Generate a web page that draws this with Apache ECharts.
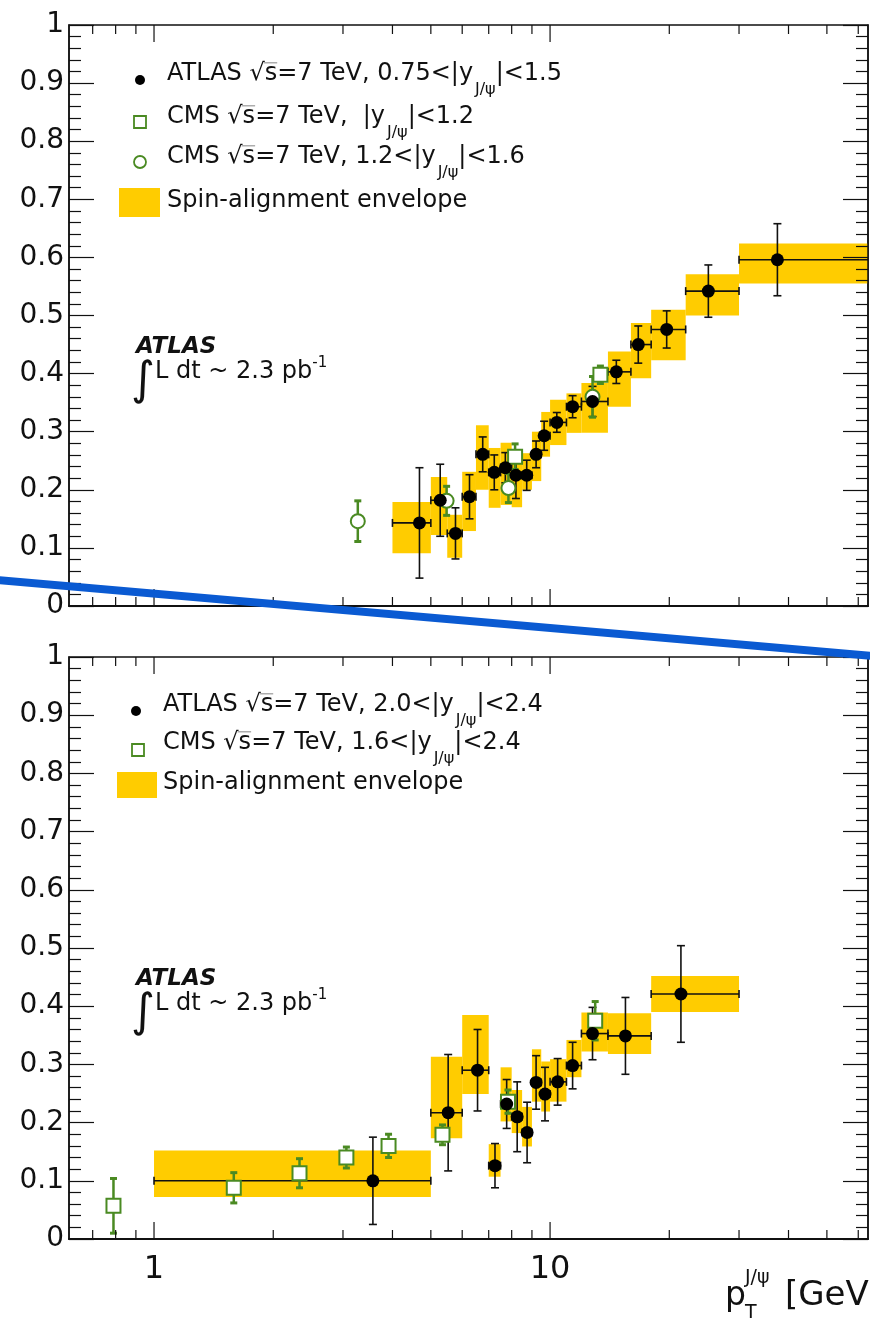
<!DOCTYPE html>
<html>
<head>
<meta charset="utf-8">
<script src="https://cdn.jsdelivr.net/npm/echarts@6/dist/echarts.min.js"></script>
<style>
  html, body { margin: 0; padding: 0; background: #fff; }
  #chart { width: 870px; height: 1321px; }
</style>
</head>
<body>
<div id="chart"></div>
<script>
// ---- top panel, 0.75<|y|<1.5 ----
var topPt    = [4.68, 5.28, 5.77, 6.26, 6.76, 7.23, 7.71, 8.2, 8.73, 9.22, 9.66, 10.4, 11.4, 12.8, 14.7, 16.7, 19.7, 25.1, 37.5];
var topVal   = [0.143, 0.182, 0.125, 0.188, 0.261, 0.230, 0.238, 0.225, 0.225, 0.261, 0.293, 0.316, 0.343, 0.352, 0.403, 0.450, 0.476, 0.542, 0.596];
var topErr   = [0.095, 0.062, 0.044, 0.038, 0.030, 0.030, 0.026, 0.040, 0.026, 0.023, 0.025, 0.017, 0.019, 0.026, 0.020, 0.032, 0.032, 0.045, 0.062];
var topBinLo = [4, 5, 5.5, 6, 6.5, 7, 7.5, 8, 8.5, 9, 9.5, 10, 11, 12, 14, 16, 18, 22, 30];
var topBinHi = [5, 5.5, 6, 6.5, 7, 7.5, 8, 8.5, 9, 9.5, 10, 11, 12, 14, 16, 18, 22, 30, 70];
var topEnvLo = [0.091, 0.122, 0.083, 0.129, 0.200, 0.169, 0.174, 0.170, 0.200, 0.215, 0.257, 0.277, 0.298, 0.298, 0.343, 0.392, 0.423, 0.500, 0.555];
var topEnvHi = [0.179, 0.222, 0.157, 0.231, 0.311, 0.272, 0.281, 0.262, 0.263, 0.300, 0.334, 0.355, 0.366, 0.384, 0.438, 0.487, 0.510, 0.571, 0.624];
var topSqX   = [8.16, 13.4];
var topSqVal = [0.257, 0.398];
var topSqErr = [0.022, 0.015];
var topCiX   = [3.27, 5.48, 7.85, 12.8];
var topCiVal = [0.146, 0.181, 0.203, 0.360];
var topCiErr = [0.035, 0.025, 0.025, 0.035];

// ---- bottom panel, 2.0<|y|<2.4 ----
var botPt    = [3.57, 5.53, 6.56, 7.26, 7.77, 8.26, 8.75, 9.22, 9.71, 10.45, 11.4, 12.8, 15.5, 21.4];
var botVal   = [0.100, 0.217, 0.290, 0.126, 0.232, 0.210, 0.183, 0.269, 0.249, 0.270, 0.298, 0.353, 0.349, 0.421];
var botErr   = [0.075, 0.100, 0.070, 0.038, 0.042, 0.060, 0.052, 0.046, 0.046, 0.040, 0.040, 0.045, 0.066, 0.083];
var botBinLo = [1, 5, 6, 7, 7.5, 8, 8.5, 9, 9.5, 10, 11, 12, 14, 18];
var botBinHi = [5, 6, 7, 7.5, 8, 8.5, 9, 9.5, 10, 11, 12, 14, 18, 30];
var botEnvLo = [0.072, 0.173, 0.249, 0.107, 0.202, 0.182, 0.159, 0.236, 0.219, 0.236, 0.278, 0.322, 0.318, 0.390];
var botEnvHi = [0.152, 0.313, 0.385, 0.163, 0.295, 0.256, 0.227, 0.326, 0.305, 0.309, 0.342, 0.389, 0.388, 0.452];
var botSqX   = [0.79, 1.59, 2.33, 3.06, 3.91, 5.35, 7.83, 13.0];
var botSqVal = [0.057, 0.088, 0.113, 0.140, 0.160, 0.179, 0.236, 0.375];
var botSqErr = [0.047, 0.026, 0.025, 0.018, 0.020, 0.017, 0.020, 0.033];

// axis ticks
var xMajor = [1, 10];
var xLabels = ['1', '10'];
var xMinor = [0.7, 0.8, 0.9, 2, 3, 4, 5, 6, 7, 8, 9, 20, 30, 40, 50, 60];

var FONT = '"DejaVu Sans"';
var INK = '#111';
var YEL = '#ffcc00';
var GRN = '#4a8a22';

var chart = echarts.init(document.getElementById('chart'), null, { renderer: 'canvas' });

function envSeries(gi, lo, hi, eLo, eHi) {
  return {
    type: 'custom', xAxisIndex: gi, yAxisIndex: gi * 2, clip: true, z: 1, silent: true,
    encode: { x: [0, 1], y: [2, 3] },
    data: lo.map(function (v, i) { return [v, hi[i], eLo[i], eHi[i]]; }),
    renderItem: function (p, api) {
      var a = api.coord([api.value(0), api.value(3)]);
      var b = api.coord([api.value(1), api.value(2)]);
      return { type: 'rect', shape: { x: a[0], y: a[1], width: b[0] - a[0], height: b[1] - a[1] }, style: { fill: YEL } };
    }
  };
}

function atlasErrSeries(gi, xs, ys, es, lo, hi) {
  return {
    type: 'custom', xAxisIndex: gi, yAxisIndex: gi * 2, clip: true, z: 2, silent: true,
    encode: { x: 0, y: 1 },
    data: xs.map(function (v, i) { return [v, ys[i], lo[i], hi[i], es[i]]; }),
    renderItem: function (p, api) {
      var x = api.value(0), y = api.value(1), e = api.value(4);
      var l = api.coord([api.value(2), y]), r = api.coord([api.value(3), y]);
      var t = api.coord([x, y + e]), b = api.coord([x, y - e]);
      var st = { stroke: INK, lineWidth: 1.6 };
      function ln(x1, y1, x2, y2) { return { type: 'line', shape: { x1: x1, y1: y1, x2: x2, y2: y2 }, style: st }; }
      return { type: 'group', children: [
        ln(l[0], l[1], r[0], r[1]),
        ln(l[0], l[1] - 4, l[0], l[1] + 4),
        ln(r[0], r[1] - 4, r[0], r[1] + 4),
        ln(t[0], t[1], b[0], b[1]),
        ln(t[0] - 4, t[1], t[0] + 4, t[1]),
        ln(b[0] - 4, b[1], b[0] + 4, b[1])
      ] };
    }
  };
}

function cmsErrSeries(gi, xs, ys, es) {
  return {
    type: 'custom', xAxisIndex: gi, yAxisIndex: gi * 2, clip: true, z: 3, silent: true,
    encode: { x: 0, y: 1 },
    data: xs.map(function (v, i) { return [v, ys[i], es[i]]; }),
    renderItem: function (p, api) {
      var x = api.value(0), y = api.value(1), e = api.value(2);
      var t = api.coord([x, y + e]), b = api.coord([x, y - e]);
      return { type: 'group', children: [
        { type: 'line', shape: { x1: t[0], y1: t[1], x2: b[0], y2: b[1] }, style: { stroke: GRN, lineWidth: 2.5 } },
        { type: 'line', shape: { x1: t[0] - 3.5, y1: t[1], x2: t[0] + 3.5, y2: t[1] }, style: { stroke: GRN, lineWidth: 3 } },
        { type: 'line', shape: { x1: b[0] - 3.5, y1: b[1], x2: b[0] + 3.5, y2: b[1] }, style: { stroke: GRN, lineWidth: 3 } }
      ] };
    }
  };
}

function markers(gi, xs, ys, symbol, size, style, z) {
  style.opacity = 1;
  return {
    type: 'scatter', xAxisIndex: gi, yAxisIndex: gi * 2, symbol: symbol, symbolSize: size, z: z, silent: true,
    itemStyle: style, emphasis: { disabled: true },
    data: xs.map(function (v, i) { return [v, ys[i]]; })
  };
}

function tickSeries(gi) {
  var data = xMajor.map(function (v) { return [v, 0, 1]; }).concat(xMinor.map(function (v) { return [v, 0, 0]; }));
  return {
    type: 'custom', xAxisIndex: gi, yAxisIndex: gi * 2, clip: false, z: 6, silent: true,
    encode: { x: 0, y: 1 }, data: data,
    renderItem: function (p, api) {
      var v = api.value(0), major = api.value(2) === 1;
      var p0 = api.coord([v, 0]), p1 = api.coord([v, 1]);
      var L = major ? 17 : 9;
      var st = { stroke: INK, lineWidth: 1.2 };
      var ch = [
        { type: 'line', shape: { x1: p0[0], y1: p0[1], x2: p0[0], y2: p0[1] - L }, style: st },
        { type: 'line', shape: { x1: p1[0], y1: p1[1], x2: p1[0], y2: p1[1] + L }, style: st }
      ];
      if (gi === 1 && major) {
        ch.push({ type: 'text', x: p0[0], y: p0[1] + 31,
          style: { text: xLabels[xMajor.indexOf(v)], font: '32px ' + FONT, fill: INK, align: 'center', verticalAlign: 'middle' } });
      }
      return { type: 'group', children: ch };
    }
  };
}

function panelSeries(gi, P) {
  var s = [
    envSeries(gi, P.binLo, P.binHi, P.envLo, P.envHi),
    atlasErrSeries(gi, P.x, P.y, P.e, P.binLo, P.binHi),
    cmsErrSeries(gi, P.sqX, P.sqY, P.sqE),
    markers(gi, P.sqX, P.sqY, 'rect', 14, { color: '#fff', borderColor: GRN, borderWidth: 2 }, 4)
  ];
  if (P.ciX) {
    s.push(cmsErrSeries(gi, P.ciX, P.ciY, P.ciE));
    s.push(markers(gi, P.ciX, P.ciY, 'circle', 14, { color: '#fff', borderColor: GRN, borderWidth: 2 }, 4));
  }
  s.push(markers(gi, P.x, P.y, 'circle', 13, { color: '#000' }, 5));
  s.push(tickSeries(gi));
  return s;
}

// text runs with sub/superscripts
var mctx = document.createElement('canvas').getContext('2d');
function run(x, base, parts) {
  var out = [];
  parts.forEach(function (p) {
    var size = p[1], dy = p[2] || 0, flag = p[3] || '';
    var font = (flag.indexOf('bi') >= 0 ? 'italic bold ' : '') + size + 'px ' + FONT;
    mctx.font = font;
    var w = mctx.measureText(p[0]).width;
    out.push({ type: 'text', x: x, y: base + dy - 0.346 * size, z: 20,
      style: { text: p[0], font: font, fill: INK, align: 'left', verticalAlign: 'middle' } });
    if (flag.indexOf('ol') >= 0) {
      out.push({ type: 'line', z: 20, shape: { x1: x - 1, y1: base - 0.8 * size, x2: x + w, y2: base - 0.8 * size },
        style: { stroke: '#999', lineWidth: 1.2 } });
    }
    x += w;
  });
  return out;
}

var LS = 24;
function legendRow(x, base, lead, range) {
  return run(x, base, [[lead, LS], ['√', LS], ['s', LS, 0, 'ol'], [range[0], LS],
    [' ', 6], ['J/ψ', 16, 13], [range[1], LS]]);
}

var graphics = [];
// top legend
graphics.push({ type: 'circle', z: 20, shape: { cx: 140, cy: 80, r: 5 }, style: { fill: '#000' } });
graphics.push({ type: 'rect', z: 20, shape: { x: 134, y: 116, width: 12, height: 12 }, style: { fill: '#fff', stroke: GRN, lineWidth: 1.8 } });
graphics.push({ type: 'circle', z: 20, shape: { cx: 140, cy: 162, r: 6 }, style: { fill: '#fff', stroke: GRN, lineWidth: 1.8 } });
graphics.push({ type: 'rect', z: 20, shape: { x: 119, y: 188, width: 41, height: 29 }, style: { fill: YEL } });
graphics = graphics.concat(
  legendRow(167, 82, 'ATLAS ', ['=7 TeV, 0.75<|y', '|<1.5']),
  legendRow(167, 125, 'CMS ', ['=7 TeV,  |y', '|<1.2']),
  legendRow(167, 165, 'CMS ', ['=7 TeV, 1.2<|y', '|<1.6']),
  run(167, 209, [['Spin-alignment envelope', LS]])
);
// bottom legend
graphics.push({ type: 'circle', z: 20, shape: { cx: 136, cy: 711, r: 5 }, style: { fill: '#000' } });
graphics.push({ type: 'rect', z: 20, shape: { x: 132, y: 744, width: 12, height: 12 }, style: { fill: '#fff', stroke: GRN, lineWidth: 1.8 } });
graphics.push({ type: 'rect', z: 20, shape: { x: 117, y: 772, width: 40, height: 26 }, style: { fill: YEL } });
graphics = graphics.concat(
  legendRow(163, 713, 'ATLAS ', ['=7 TeV, 2.0<|y', '|<2.4']),
  legendRow(163, 751, 'CMS ', ['=7 TeV, 1.6<|y', '|<2.4']),
  run(163, 791, [['Spin-alignment envelope', LS]])
);
// ATLAS labels
[0, 632].forEach(function (off) {
  graphics = graphics.concat(
    run(136, 355 + off, [['ATLAS', 23, 0, 'bi']]),
    run(131, 398 + off, [['∫', 46]]),
    run(155, 380 + off, [['L dt ~ 2.3 pb', LS], ['-1', 15, -12]])
  );
});
// x title
graphics = graphics.concat(
  run(725, 1308, [['p', 33]]),
  run(745, 1285, [['J/ψ', 19]]),
  run(745, 1320, [['T', 19]]),
  run(785, 1308, [['[GeV]', 34]])
);
// blue annotation stroke
graphics.push({ type: 'line', z: 100, shape: { x1: -2, y1: 580, x2: 872, y2: 656 }, style: { stroke: '#0a5ad2', lineWidth: 8 } });

function yAx(gi, pos) {
  return {
    gridIndex: gi, type: 'value', position: pos, min: 0, max: 1, interval: 0.1, z: 10,
    axisLine: { show: true, lineStyle: { color: INK, width: 1.5 } },
    axisTick: { show: true, inside: true, length: 25, lineStyle: { color: INK, width: 1.2 } },
    minorTick: { show: true, splitNumber: 5, length: 12, lineStyle: { color: INK, width: 1.2 } },
    axisLabel: { show: pos === 'left', margin: 5, fontSize: 28, fontFamily: 'DejaVu Sans', color: INK },
    splitLine: { show: false }
  };
}
function xAx(gi) {
  return {
    gridIndex: gi, type: 'log', logBase: 10, min: 0.61, max: 63.5, z: 10,
    axisLine: { show: true, lineStyle: { color: INK, width: 2 } },
    axisTick: { show: false }, axisLabel: { show: false }, splitLine: { show: false }, minorTick: { show: false }
  };
}

chart.setOption({
  animation: false,
  backgroundColor: '#fff',
  grid: [
    { left: 69, top: 25, width: 799, height: 581, show: true, borderColor: INK, borderWidth: 1.5 },
    { left: 69, top: 657, width: 799, height: 582, show: true, borderColor: INK, borderWidth: 1.5 }
  ],
  xAxis: [xAx(0), xAx(1)],
  yAxis: [yAx(0, 'left'), yAx(0, 'right'), yAx(1, 'left'), yAx(1, 'right')],
  series: panelSeries(0, {
    x: topPt, y: topVal, e: topErr, binLo: topBinLo, binHi: topBinHi, envLo: topEnvLo, envHi: topEnvHi,
    sqX: topSqX, sqY: topSqVal, sqE: topSqErr, ciX: topCiX, ciY: topCiVal, ciE: topCiErr
  }).concat(panelSeries(1, {
    x: botPt, y: botVal, e: botErr, binLo: botBinLo, binHi: botBinHi, envLo: botEnvLo, envHi: botEnvHi,
    sqX: botSqX, sqY: botSqVal, sqE: botSqErr
  })),
  graphic: graphics
});
window.addEventListener('resize', function () { chart.resize(); });
</script>
</body>
</html>
